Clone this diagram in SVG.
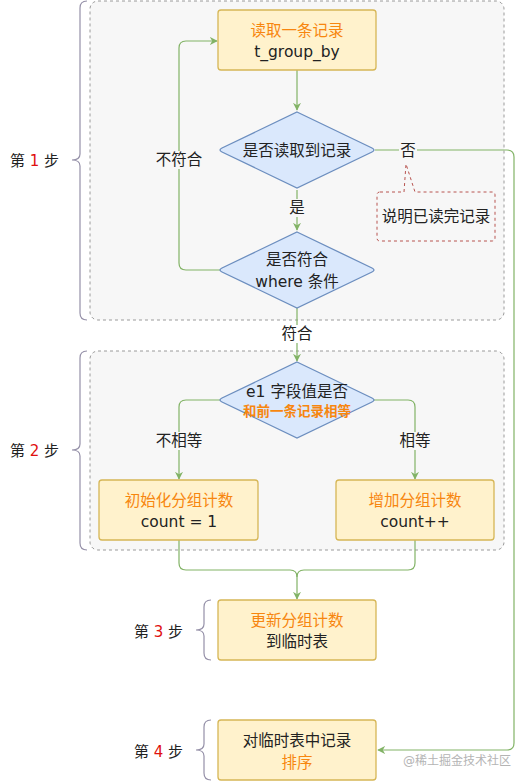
<svg xmlns="http://www.w3.org/2000/svg" width="529" height="781" viewBox="0 0 529 781">
<style>
text{font-family:"DejaVu Sans","Noto Sans CJK SC",sans-serif;font-size:15.5px;fill:#222;text-anchor:middle;dominant-baseline:central}
.or{fill:#f7860f}
.b{font-weight:bold}
.red{fill:#e01010}
.cont{fill:#f7f7f7;stroke:#9a9a9a;stroke-dasharray:3 3;stroke-width:1}
.box{fill:#fff2cc;stroke:#d6b656;stroke-width:1.3}
.dia{fill:#dae8fc;stroke:#6c8ebf;stroke-width:1.3}
.brace{fill:none;stroke:#9590a8;stroke-width:1.2}
.edge{fill:none;stroke:#82b366;stroke-width:1.2}
.arr{marker-end:url(#ah)}
.lblbg{fill:#f7f7f7}
.step{font-size:15px;text-anchor:start}
</style>
<defs>
<marker id="ah" viewBox="0 0 10 10" refX="9" refY="5" markerWidth="8" markerHeight="8" markerUnits="userSpaceOnUse" orient="auto">
<path d="M0,0 L10,5 L0,10 L3,5 Z" fill="#82b366"/>
</marker>
</defs>
<rect width="529" height="781" fill="#ffffff"/>
<g id="containers">
<rect id="step1-container" class="cont" x="90" y="1" width="414" height="319" rx="8"/>
<rect id="step2-container" class="cont" x="90" y="351" width="414" height="199" rx="8"/>
</g>
<g id="braces">
<path class="brace" d="M87,1 Q80,1 80,8 L80,154 Q80,160 72,160 Q80,160 80,166 L80,313 Q80,320 87,320"/>
<path class="brace" d="M87,351 Q80,351 80,358 L80,444 Q80,450 72,450 Q80,450 80,456 L80,543 Q80,550 87,550"/>
<path class="brace" d="M211,600 Q204,600 204,607 L204,624 Q204,630 196,630 Q204,630 204,636 L204,653 Q204,660 211,660"/>
<path class="brace" d="M211,720 Q204,720 204,727 L204,744 Q204,750 196,750 Q204,750 204,756 L204,773 Q204,780 211,780"/>
</g>
<g id="step-labels">
<text class="step" x="10" y="161">第 <tspan class="red">1</tspan> 步</text>
<text class="step" x="10" y="451">第 <tspan class="red">2</tspan> 步</text>
<text class="step" x="134" y="632">第 <tspan class="red">3</tspan> 步</text>
<text class="step" x="134" y="752">第 <tspan class="red">4</tspan> 步</text>
</g>
<g id="connectors">
<path class="edge arr" d="M297,70 L297,110"/>
<path class="edge arr" d="M297,190 L297,230"/>
<path class="edge arr" d="M222,270 L186,270 Q179,270 179,263 L179,48 Q179,41 186,41 L217,41"/>
<path class="edge arr" d="M375,150 L507,150 Q514,150 514,157 L514,743 Q514,750 507,750 L378,750"/>
<path class="edge arr" d="M297,308 L297,361"/>
<path class="edge arr" d="M222,400 L186,400 Q179,400 179,407 L179,479"/>
<path class="edge arr" d="M372,400 L408,400 Q415,400 415,407 L415,479"/>
<path class="edge" d="M179,540 L179,563 Q179,570 186,570 L290,570 Q297,570 297,577"/>
<path class="edge" d="M415,540 L415,563 Q415,570 408,570 L304,570 Q297,570 297,577"/>
<path class="edge arr" d="M297,577 L297,599"/>
<rect class="lblbg" x="399" y="142" width="18" height="18"/>
<text x="408" y="151">否</text>
<rect class="lblbg" x="288" y="199" width="18" height="18"/>
<text x="297" y="208">是</text>
<rect class="lblbg" x="155" y="151" width="48" height="18"/>
<text x="179" y="160">不符合</text>
<rect fill="#ffffff" x="280" y="325" width="34" height="18"/>
<text x="297" y="334">符合</text>
<rect class="lblbg" x="155" y="432" width="48" height="18"/>
<text x="179" y="441">不相等</text>
<rect class="lblbg" x="399" y="432" width="32" height="18"/>
<text x="415" y="441">相等</text>
</g>
<g id="node-read">
<rect class="box" x="218" y="10" width="158" height="60" rx="3"/>
<text class="or" x="297" y="31">读取一条记录</text>
<text x="297" y="52">t_group_by</text>
</g>
<g id="node-has-record">
<path class="dia" d="M297,112 L372,148 Q376,150 372,152 L297,188 L222,152 Q218,150 222,148 Z"/>
<text x="297" y="151">是否读取到记录</text>
</g>
<g id="node-where">
<path class="dia" d="M297,232 L372,268 Q376,270 372,272 L297,308 L222,272 Q218,270 222,268 Z"/>
<text x="297" y="260">是否符合</text>
<text x="297" y="282">where 条件</text>
</g>
<g id="node-note">
<path d="M380,192 L404,192 L406,164 L415,192 L492,192 Q495,192 495,195 L495,238 Q495,241 492,241 L380,241 Q377,241 377,238 L377,195 Q377,192 380,192 Z" fill="#f7f7f7" stroke="#b85450" stroke-dasharray="3 3" stroke-width="1"/>
<text x="436" y="217">说明已读完记录</text>
</g>
<g id="node-compare">
<path class="dia" d="M297,362 L372,398 Q376,400 372,402 L297,438 L222,402 Q218,400 222,398 Z"/>
<text x="297" y="392">e1 字段值是否</text>
<text class="or b" x="297" y="411" style="font-size:13.5px">和前一条记录相等</text>
</g>
<g id="node-init">
<rect class="box" x="99" y="480" width="159" height="60" rx="3"/>
<text class="or" x="179" y="501">初始化分组计数</text>
<text x="179" y="522">count = 1</text>
</g>
<g id="node-inc">
<rect class="box" x="336" y="480" width="158" height="60" rx="3"/>
<text class="or" x="415" y="501">增加分组计数</text>
<text x="415" y="522">count++</text>
</g>
<g id="node-update">
<rect class="box" x="218" y="600" width="158" height="60" rx="3"/>
<text class="or" x="297" y="621">更新分组计数</text>
<text x="297" y="642">到临时表</text>
</g>
<g id="node-sort">
<rect class="box" x="218" y="720" width="158" height="60" rx="3"/>
<text x="297" y="741">对临时表中记录</text>
<text class="or" x="297" y="763">排序</text>
</g>
<text x="457" y="761" style="font-size:12px;fill:#b4b4b4">@稀土掘金技术社区</text>
</svg>
